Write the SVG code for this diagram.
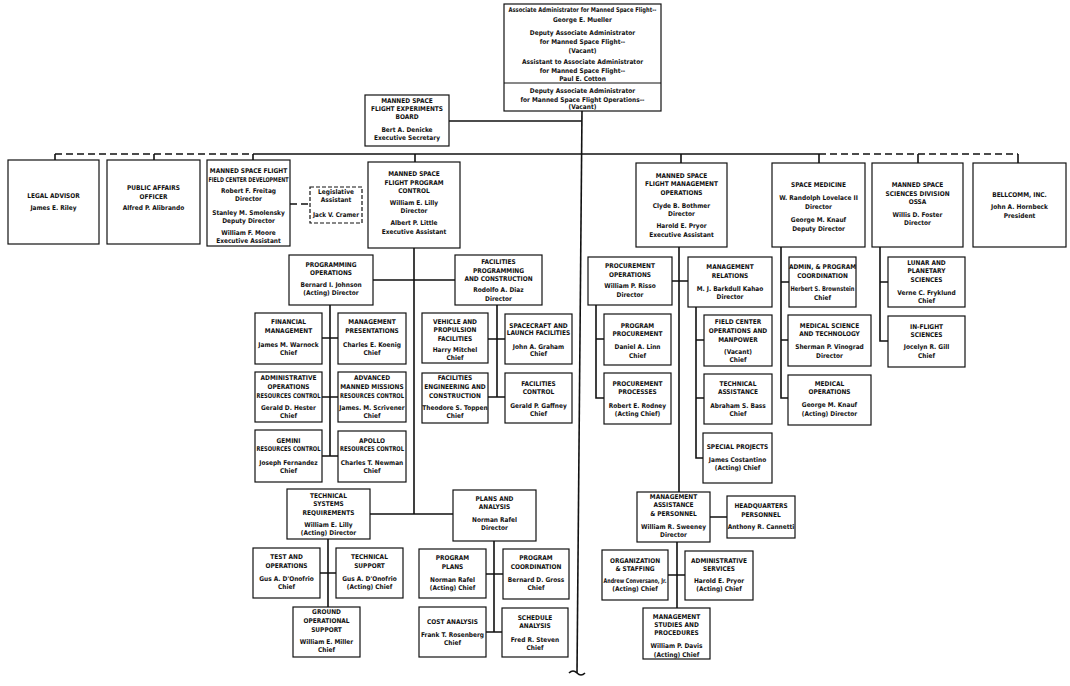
<svg xmlns="http://www.w3.org/2000/svg" width="1070" height="686" viewBox="0 0 1070 686">
<style>
.b{fill:#fff;stroke:#111;stroke-width:1.2}
.bd{fill:#fff;stroke:#111;stroke-width:1.2;stroke-dasharray:4 2}
text{font-family:"Liberation Sans Narrow","DejaVu Sans Condensed","Roboto Condensed","Liberation Sans",sans-serif;font-size:6.5px;font-weight:bold;text-anchor:middle;fill:#111}
.c{stroke:#111;stroke-width:1.6;fill:none}
.d{stroke:#111;stroke-width:1.6;fill:none;stroke-dasharray:7 4}
</style>
<rect width="1070" height="686" fill="#fff"/>
<g id="connectors">
<path class="c" d="M582,111 L577,673"/>
<path class="c" d="M569,673 q4,-4 8,0 q4,4 8,0"/>
<path class="c" d="M449,121 H582"/>
<path class="c" d="M253,154 H819"/>
<path class="d" d="M55,154 H253"/>
<path class="d" d="M819,154 H1018"/>
<path class="c" d="M55,154 V160 M154,154 V160 M253,154 V160 M415,154 V162 M681,154 V163 M819,154 V163 M918,154 V163 M1018,154 V163"/>
<path class="d" d="M290,204 H310"/>
<path class="c" d="M414,248 V514 M373,280 H455 M370,514 H453"/>
<path class="c" d="M330,305 V456 M322,338 H338 M322,397 H338 M322,456 H338"/>
<path class="c" d="M497,305 V397 M488,339 H505 M488,397 H505"/>
<path class="c" d="M328,539 V607 M320,573 H336"/>
<path class="c" d="M494,541 V632 M486,574 H503 M486,632 H502"/>
<path class="c" d="M679,247 V492 M672,281 H688"/>
<path class="c" d="M596,305 V398 H604 M596,339 H604"/>
<path class="c" d="M696,307 V458 H704 M696,340 H704 M696,398 H704"/>
<path class="c" d="M710,517 H727 M677,542 V608 M668,575 H685"/>
<path class="c" d="M781,247 V398 H788 M781,282 H789 M781,340 H788"/>
<path class="c" d="M880,247 V341 H888 M880,282 H888"/>
</g>
<g id="assoc-admin">
<rect class="b" x="504" y="4" width="157" height="107"/>
<line x1="504" y1="83" x2="661" y2="83" stroke="#111" stroke-width="1"/>
<text x="582.5" y="11.8" textLength="148" lengthAdjust="spacingAndGlyphs">Associate Administrator for Manned Space Flight--</text>
<text><tspan x="582.5" y="21.5">George E. Mueller</tspan><tspan x="582.5" y="34.8">Deputy Associate Administrator</tspan><tspan x="582.5" y="43.8">for Manned Space Flight--</tspan><tspan x="582.5" y="52.5">(Vacant)</tspan><tspan x="582.5" y="64.2">Assistant to Associate Administrator</tspan><tspan x="582.5" y="72.8">for Manned Space Flight--</tspan><tspan x="582.5" y="81.3">Paul E. Cotton</tspan><tspan x="582.5" y="92.5">Deputy Associate Administrator</tspan><tspan x="582.5" y="101.5">for Manned Space Flight Operations--</tspan><tspan x="582.5" y="109.4">(Vacant)</tspan></text>
</g>
<g id="experiments-board">
<rect class="b" x="365" y="95" width="84" height="51"/>
<text><tspan x="407" y="102.5">MANNED SPACE</tspan><tspan x="407" y="110.8">FLIGHT EXPERIMENTS</tspan><tspan x="407" y="119.2">BOARD</tspan><tspan x="407" y="131.5">Bert A. Denicke</tspan><tspan x="407" y="140.2">Executive Secretary</tspan></text>
</g>
<g id="legal-advisor">
<rect class="b" x="8" y="160" width="91" height="84"/>
<text><tspan x="53.5" y="197.5">LEGAL ADVISOR</tspan><tspan x="53.5" y="209.8">James E. Riley</tspan></text>
</g>
<g id="public-affairs">
<rect class="b" x="107" y="160" width="93" height="84"/>
<text><tspan x="153.5" y="189.5">PUBLIC AFFAIRS</tspan><tspan x="153.5" y="198.5">OFFICER</tspan><tspan x="153.5" y="209.5">Alfred P. Alibrando</tspan></text>
</g>
<g id="field-center-development">
<rect class="b" x="207" y="160" width="83" height="86"/>
<text x="248.5" y="181.5" textLength="80" lengthAdjust="spacingAndGlyphs">FIELD CENTER DEVELOPMENT</text>
<text><tspan x="248.5" y="172.5">MANNED SPACE FLIGHT</tspan><tspan x="248.5" y="192.5">Robert F. Freitag</tspan><tspan x="248.5" y="200.5">Director</tspan><tspan x="248.5" y="214.5">Stanley M. Smolensky</tspan><tspan x="248.5" y="222.5">Deputy Director</tspan><tspan x="248.5" y="234.5">William F. Moore</tspan><tspan x="248.5" y="242.5">Executive Assistant</tspan></text>
</g>
<g id="legislative-assistant">
<rect class="bd" x="310" y="187" width="52" height="36"/>
<text x="336" y="216.5" textLength="46" lengthAdjust="spacingAndGlyphs">Jack V. Cramer</text>
<text><tspan x="336" y="194.2">Legislative</tspan><tspan x="336" y="201.5">Assistant</tspan></text>
</g>
<g id="program-control">
<rect class="b" x="368" y="162" width="92" height="86"/>
<text><tspan x="414" y="176.2">MANNED SPACE</tspan><tspan x="414" y="184.5">FLIGHT PROGRAM</tspan><tspan x="414" y="193.2">CONTROL</tspan><tspan x="414" y="204.5">William E. Lilly</tspan><tspan x="414" y="213.2">Director</tspan><tspan x="414" y="225.2">Albert P. Little</tspan><tspan x="414" y="233.5">Executive Assistant</tspan></text>
</g>
<g id="management-operations">
<rect class="b" x="636" y="163" width="91" height="84"/>
<text><tspan x="681.5" y="177.5">MANNED SPACE</tspan><tspan x="681.5" y="186.2">FLIGHT MANAGEMENT</tspan><tspan x="681.5" y="194.8">OPERATIONS</tspan><tspan x="681.5" y="207.5">Clyde B. Bothmer</tspan><tspan x="681.5" y="215.8">Director</tspan><tspan x="681.5" y="228.2">Harold E. Pryor</tspan><tspan x="681.5" y="236.8">Executive Assistant</tspan></text>
</g>
<g id="space-medicine">
<rect class="b" x="772" y="163" width="93" height="84"/>
<text><tspan x="818.5" y="186.8">SPACE MEDICINE</tspan><tspan x="818.5" y="200.2">W. Randolph Lovelace II</tspan><tspan x="818.5" y="209.2">Director</tspan><tspan x="818.5" y="221.8">George M. Knauf</tspan><tspan x="818.5" y="230.8">Deputy Director</tspan></text>
</g>
<g id="sciences-division">
<rect class="b" x="872" y="163" width="91" height="84"/>
<text><tspan x="917.5" y="186.8">MANNED SPACE</tspan><tspan x="917.5" y="195.8">SCIENCES DIVISION</tspan><tspan x="917.5" y="204.2">OSSA</tspan><tspan x="917.5" y="216.8">Willis D. Foster</tspan><tspan x="917.5" y="225.2">Director</tspan></text>
</g>
<g id="bellcomm">
<rect class="b" x="973" y="163" width="93" height="84"/>
<text><tspan x="1019.5" y="196.8">BELLCOMM, INC.</tspan><tspan x="1019.5" y="209.2">John A. Hornbeck</tspan><tspan x="1019.5" y="217.5">President</tspan></text>
</g>
<g id="programming-operations">
<rect class="b" x="289" y="255" width="84" height="50"/>
<text><tspan x="331" y="266.5">PROGRAMMING</tspan><tspan x="331" y="275.2">OPERATIONS</tspan><tspan x="331" y="286.8">Bernard I. Johnson</tspan><tspan x="331" y="294.8">(Acting) Director</tspan></text>
</g>
<g id="financial-management">
<rect class="b" x="255" y="313" width="67" height="51"/>
<text><tspan x="288.5" y="324.2">FINANCIAL</tspan><tspan x="288.5" y="333.2">MANAGEMENT</tspan><tspan x="288.5" y="346.5">James M. Warnock</tspan><tspan x="288.5" y="354.8">Chief</tspan></text>
</g>
<g id="management-presentations">
<rect class="b" x="338" y="313" width="68" height="51"/>
<text><tspan x="372" y="324.2">MANAGEMENT</tspan><tspan x="372" y="333.2">PRESENTATIONS</tspan><tspan x="372" y="346.5">Charles E. Koenig</tspan><tspan x="372" y="354.8">Chief</tspan></text>
</g>
<g id="administrative-operations">
<rect class="b" x="255" y="372" width="67" height="50"/>
<text x="288.5" y="398.2" textLength="64" lengthAdjust="spacingAndGlyphs">RESOURCES CONTROL</text>
<text><tspan x="288.5" y="380.2">ADMINISTRATIVE</tspan><tspan x="288.5" y="389.2">OPERATIONS</tspan><tspan x="288.5" y="410.2">Gerald D. Hester</tspan><tspan x="288.5" y="418.2">Chief</tspan></text>
</g>
<g id="advanced-manned-missions">
<rect class="b" x="338" y="372" width="68" height="50"/>
<text x="372" y="398.2" textLength="64" lengthAdjust="spacingAndGlyphs">RESOURCES CONTROL</text>
<text><tspan x="372" y="380.2">ADVANCED</tspan><tspan x="372" y="389.2">MANNED MISSIONS</tspan><tspan x="372" y="410.2">James. M. Scrivener</tspan><tspan x="372" y="418.2">Chief</tspan></text>
</g>
<g id="gemini-resources">
<rect class="b" x="255" y="430" width="67" height="52"/>
<text x="288.5" y="450.8" textLength="64" lengthAdjust="spacingAndGlyphs">RESOURCES CONTROL</text>
<text><tspan x="288.5" y="442.5">GEMINI</tspan><tspan x="288.5" y="465.2">Joseph Fernandez</tspan><tspan x="288.5" y="472.5">Chief</tspan></text>
</g>
<g id="apollo-resources">
<rect class="b" x="338" y="431" width="68" height="51"/>
<text x="372" y="450.8" textLength="64" lengthAdjust="spacingAndGlyphs">RESOURCES CONTROL</text>
<text><tspan x="372" y="442.5">APOLLO</tspan><tspan x="372" y="465.2">Charles T. Newman</tspan><tspan x="372" y="472.5">Chief</tspan></text>
</g>
<g id="facilities-programming">
<rect class="b" x="455" y="255" width="87" height="50"/>
<text><tspan x="498.5" y="264.2">FACILITIES</tspan><tspan x="498.5" y="272.5">PROGRAMMING</tspan><tspan x="498.5" y="280.8">AND CONSTRUCTION</tspan><tspan x="498.5" y="291.8">Rodolfo A. Diaz</tspan><tspan x="498.5" y="300.8">Director</tspan></text>
</g>
<g id="vehicle-propulsion">
<rect class="b" x="422" y="313" width="66" height="50"/>
<text><tspan x="455" y="323.5">VEHICLE AND</tspan><tspan x="455" y="331.8">PROPULSION</tspan><tspan x="455" y="340.8">FACILITIES</tspan><tspan x="455" y="351.8">Harry Mitchel</tspan><tspan x="455" y="359.8">Chief</tspan></text>
</g>
<g id="spacecraft-launch">
<rect class="b" x="505" y="314" width="67" height="50"/>
<text><tspan x="538.5" y="327.5">SPACECRAFT AND</tspan><tspan x="538.5" y="335.2">LAUNCH FACILITIES</tspan><tspan x="538.5" y="348.5">John A. Graham</tspan><tspan x="538.5" y="355.8">Chief</tspan></text>
</g>
<g id="facilities-engineering">
<rect class="b" x="422" y="373" width="66" height="50"/>
<text><tspan x="455" y="380.2">FACILITIES</tspan><tspan x="455" y="389.2">ENGINEERING AND</tspan><tspan x="455" y="397.8">CONSTRUCTION</tspan><tspan x="455" y="410.2">Theodore S. Toppen</tspan><tspan x="455" y="418.2">Chief</tspan></text>
</g>
<g id="facilities-control">
<rect class="b" x="505" y="373" width="67" height="50"/>
<text><tspan x="538.5" y="385.8">FACILITIES</tspan><tspan x="538.5" y="394.2">CONTROL</tspan><tspan x="538.5" y="407.5">Gerald P. Gaffney</tspan><tspan x="538.5" y="415.8">Chief</tspan></text>
</g>
<g id="technical-systems">
<rect class="b" x="287" y="489" width="83" height="50"/>
<text><tspan x="328.5" y="497.5">TECHNICAL</tspan><tspan x="328.5" y="505.8">SYSTEMS</tspan><tspan x="328.5" y="514.8">REQUIREMENTS</tspan><tspan x="328.5" y="526.8">William E. Lilly</tspan><tspan x="328.5" y="534.8">(Acting) Director</tspan></text>
</g>
<g id="test-operations">
<rect class="b" x="253" y="548" width="67" height="50"/>
<text><tspan x="286.5" y="559.2">TEST AND</tspan><tspan x="286.5" y="567.5">OPERATIONS</tspan><tspan x="286.5" y="580.8">Gus A. D'Onofrio</tspan><tspan x="286.5" y="589.2">Chief</tspan></text>
</g>
<g id="technical-support">
<rect class="b" x="336" y="548" width="67" height="50"/>
<text><tspan x="369.5" y="559.2">TECHNICAL</tspan><tspan x="369.5" y="567.5">SUPPORT</tspan><tspan x="369.5" y="580.8">Gus A. D'Onofrio</tspan><tspan x="369.5" y="589.2">(Acting) Chief</tspan></text>
</g>
<g id="ground-support">
<rect class="b" x="293" y="607" width="67" height="50"/>
<text><tspan x="326.5" y="614.2">GROUND</tspan><tspan x="326.5" y="622.5">OPERATIONAL</tspan><tspan x="326.5" y="631.5">SUPPORT</tspan><tspan x="326.5" y="644.2">William E. Miller</tspan><tspan x="326.5" y="651.8">Chief</tspan></text>
</g>
<g id="plans-analysis">
<rect class="b" x="453" y="490" width="83" height="51"/>
<text><tspan x="494.5" y="500.8">PLANS AND</tspan><tspan x="494.5" y="509.2">ANALYSIS</tspan><tspan x="494.5" y="521.8">Norman Rafel</tspan><tspan x="494.5" y="530.2">Director</tspan></text>
</g>
<g id="program-plans">
<rect class="b" x="419" y="549" width="67" height="49"/>
<text><tspan x="452.5" y="560.2">PROGRAM</tspan><tspan x="452.5" y="568.5">PLANS</tspan><tspan x="452.5" y="581.5">Norman Rafel</tspan><tspan x="452.5" y="589.8">(Acting) Chief</tspan></text>
</g>
<g id="program-coordination">
<rect class="b" x="503" y="549" width="66" height="50"/>
<text><tspan x="536" y="560.2">PROGRAM</tspan><tspan x="536" y="568.5">COORDINATION</tspan><tspan x="536" y="581.5">Bernard D. Gross</tspan><tspan x="536" y="589.8">Chief</tspan></text>
</g>
<g id="cost-analysis">
<rect class="b" x="419" y="607" width="67" height="50"/>
<text><tspan x="452.5" y="623.5">COST ANALYSIS</tspan><tspan x="452.5" y="636.5">Frank T. Rosenberg</tspan><tspan x="452.5" y="644.8">Chief</tspan></text>
</g>
<g id="schedule-analysis">
<rect class="b" x="502" y="608" width="66" height="49"/>
<text><tspan x="535" y="619.8">SCHEDULE</tspan><tspan x="535" y="628.2">ANALYSIS</tspan><tspan x="535" y="641.5">Fred R. Steven</tspan><tspan x="535" y="649.8">Chief</tspan></text>
</g>
<g id="procurement-operations">
<rect class="b" x="588" y="257" width="84" height="48"/>
<text><tspan x="630" y="267.5">PROCUREMENT</tspan><tspan x="630" y="276.5">OPERATIONS</tspan><tspan x="630" y="288.2">William P. Risso</tspan><tspan x="630" y="296.8">Director</tspan></text>
</g>
<g id="program-procurement">
<rect class="b" x="604" y="314" width="67" height="51"/>
<text><tspan x="637.5" y="327.5">PROGRAM</tspan><tspan x="637.5" y="335.8">PROCUREMENT</tspan><tspan x="637.5" y="349.2">Daniel A. Linn</tspan><tspan x="637.5" y="357.5">Chief</tspan></text>
</g>
<g id="procurement-processes">
<rect class="b" x="604" y="373" width="67" height="51"/>
<text><tspan x="637.5" y="385.8">PROCUREMENT</tspan><tspan x="637.5" y="394.2">PROCESSES</tspan><tspan x="637.5" y="407.5">Robert E. Rodney</tspan><tspan x="637.5" y="415.8">(Acting Chief)</tspan></text>
</g>
<g id="management-relations">
<rect class="b" x="688" y="257" width="84" height="50"/>
<text><tspan x="730" y="268.5">MANAGEMENT</tspan><tspan x="730" y="277.5">RELATIONS</tspan><tspan x="730" y="290.8">M. J. Barkdull Kahao</tspan><tspan x="730" y="299.2">Director</tspan></text>
</g>
<g id="field-center-operations">
<rect class="b" x="704" y="315" width="68" height="51"/>
<text><tspan x="738" y="324.2">FIELD CENTER</tspan><tspan x="738" y="333.2">OPERATIONS AND</tspan><tspan x="738" y="341.5">MANPOWER</tspan><tspan x="738" y="354.2">(Vacant)</tspan><tspan x="738" y="361.8">Chief</tspan></text>
</g>
<g id="technical-assistance">
<rect class="b" x="704" y="374" width="68" height="50"/>
<text><tspan x="738" y="385.8">TECHNICAL</tspan><tspan x="738" y="394.2">ASSISTANCE</tspan><tspan x="738" y="407.5">Abraham S. Bass</tspan><tspan x="738" y="415.8">Chief</tspan></text>
</g>
<g id="special-projects">
<rect class="b" x="703" y="433" width="69" height="50"/>
<text><tspan x="737.5" y="449.2">SPECIAL PROJECTS</tspan><tspan x="737.5" y="461.5">James Costantino</tspan><tspan x="737.5" y="469.8">(Acting) Chief</tspan></text>
</g>
<g id="management-assistance">
<rect class="b" x="637" y="492" width="73" height="50"/>
<text><tspan x="673.5" y="498.5">MANAGEMENT</tspan><tspan x="673.5" y="506.8">ASSISTANCE</tspan><tspan x="673.5" y="515.8">&amp; PERSONNEL</tspan><tspan x="673.5" y="528.5">William R. Sweeney</tspan><tspan x="673.5" y="536.8">Director</tspan></text>
</g>
<g id="headquarters-personnel">
<rect class="b" x="727" y="496" width="68" height="42"/>
<text><tspan x="761" y="508.2">HEADQUARTERS</tspan><tspan x="761" y="516.5">PERSONNEL</tspan><tspan x="761" y="529.2">Anthony R. Cannetti</tspan></text>
</g>
<g id="organization-staffing">
<rect class="b" x="602" y="550" width="66" height="50"/>
<text x="635" y="583.2" textLength="63" lengthAdjust="spacingAndGlyphs">Andrew Conversano, Jr.</text>
<text><tspan x="635" y="562.5">ORGANIZATION</tspan><tspan x="635" y="570.8">&amp; STAFFING</tspan><tspan x="635" y="590.8">(Acting) Chief</tspan></text>
</g>
<g id="administrative-services">
<rect class="b" x="685" y="551" width="68" height="49"/>
<text><tspan x="719" y="562.5">ADMINISTRATIVE</tspan><tspan x="719" y="570.8">SERVICES</tspan><tspan x="719" y="583.2">Harold E. Pryor</tspan><tspan x="719" y="590.8">(Acting) Chief</tspan></text>
</g>
<g id="management-studies">
<rect class="b" x="643" y="608" width="67" height="51"/>
<text><tspan x="676.5" y="618.5">MANAGEMENT</tspan><tspan x="676.5" y="626.8">STUDIES AND</tspan><tspan x="676.5" y="635.2">PROCEDURES</tspan><tspan x="676.5" y="648.2">William P. Davis</tspan><tspan x="676.5" y="656.5">(Acting) Chief</tspan></text>
</g>
<g id="admin-program-coordination">
<rect class="b" x="789" y="257" width="67" height="50"/>
<text x="822.5" y="290.8" textLength="64" lengthAdjust="spacingAndGlyphs">Herbert S. Brownstein</text>
<text><tspan x="822.5" y="269.2">ADMIN, &amp; PROGRAM</tspan><tspan x="822.5" y="278.2">COORDINATION</tspan><tspan x="822.5" y="299.8">Chief</tspan></text>
</g>
<g id="medical-science">
<rect class="b" x="788" y="315" width="83" height="51"/>
<text><tspan x="829.5" y="327.5">MEDICAL SCIENCE</tspan><tspan x="829.5" y="335.8">AND TECHNOLOGY</tspan><tspan x="829.5" y="349.2">Sherman P. Vinograd</tspan><tspan x="829.5" y="357.5">Director</tspan></text>
</g>
<g id="medical-operations">
<rect class="b" x="788" y="375" width="83" height="50"/>
<text><tspan x="829.5" y="385.8">MEDICAL</tspan><tspan x="829.5" y="394.2">OPERATIONS</tspan><tspan x="829.5" y="406.8">George M. Knauf</tspan><tspan x="829.5" y="415.8">(Acting) Director</tspan></text>
</g>
<g id="lunar-planetary">
<rect class="b" x="888" y="257" width="77" height="50"/>
<text><tspan x="926.5" y="265.2">LUNAR AND</tspan><tspan x="926.5" y="273.2">PLANETARY</tspan><tspan x="926.5" y="281.8">SCIENCES</tspan><tspan x="926.5" y="294.8">Verne C. Fryklund</tspan><tspan x="926.5" y="303.2">Chief</tspan></text>
</g>
<g id="in-flight-sciences">
<rect class="b" x="888" y="316" width="77" height="51"/>
<text><tspan x="926.5" y="328.5">IN-FLIGHT</tspan><tspan x="926.5" y="336.5">SCIENCES</tspan><tspan x="926.5" y="349.2">Jocelyn R. Gill</tspan><tspan x="926.5" y="357.5">Chief</tspan></text>
</g>
</svg>
